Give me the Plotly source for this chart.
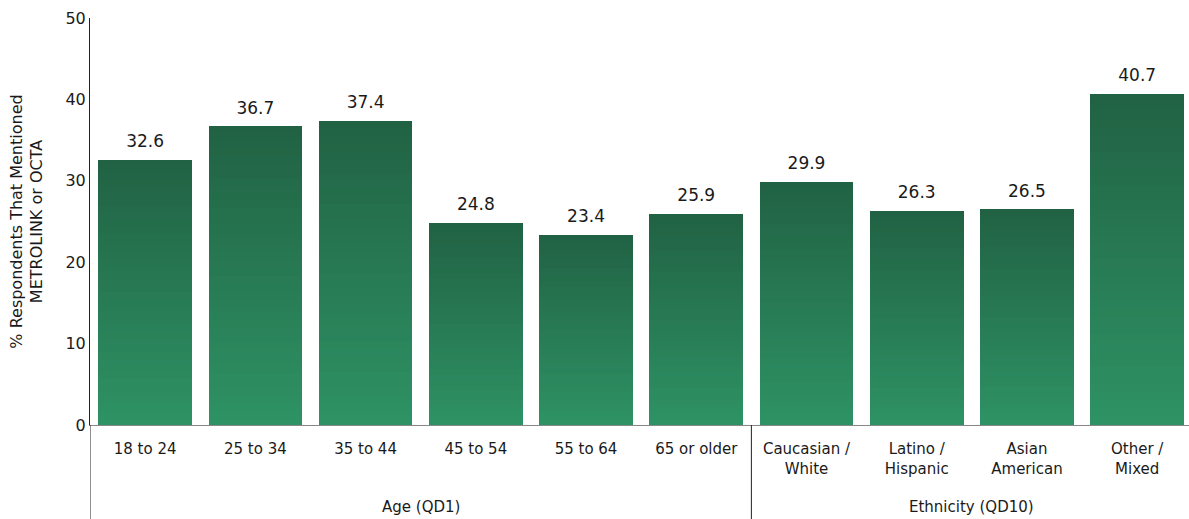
import plotly.graph_objects as go

groups = ["Age (QD1)"] * 6 + ["Ethnicity (QD10)"] * 4
categories = ["18 to 24", "25 to 34", "35 to 44", "45 to 54", "55 to 64", "65 or older",
              "Caucasian /<br>White", "Latino /<br>Hispanic", "Asian<br>American", "Other /<br>Mixed"]
values = [32.6, 36.7, 37.4, 24.8, 23.4, 25.9, 29.9, 26.3, 26.5, 40.7]
labels = [f"{v:.1f}" for v in values]

FONT = "DejaVu Sans"
TXT = "#1a1a1a"
bottom_rgb = (46, 146, 100)
top_rgb = (33, 98, 68)
N = 40

W, H = 1189, 519
ML, MR, MT, MB = 90, 0, 18, 94
plot_h = H - MT - MB

fig = go.Figure()
for i in range(N):
    t = i / (N - 1)
    c = tuple(round(bottom_rgb[k] + (top_rgb[k] - bottom_rgb[k]) * t) for k in range(3))
    fig.add_trace(go.Bar(
        x=categories, y=[v / N for v in values],
        marker=dict(color=f"rgb{c}", line=dict(width=0)),
        showlegend=False, hoverinfo="skip",
    ))

fig.add_trace(go.Scatter(
    x=categories, y=values, mode="markers+text", text=labels, textposition="top center",
    marker=dict(size=12, opacity=0),
    textfont=dict(family=FONT, size=17, color=TXT),
    showlegend=False, hoverinfo="skip", cliponaxis=False,
))

# group dividers and group labels derived from the group list
bottom_paper = -MB / plot_h
group_names = []
for g in groups:
    if g not in group_names:
        group_names.append(g)
start = 0
for gi, g in enumerate(group_names):
    n = groups.count(g)
    if gi > 0:
        fig.add_shape(type="line", xref="x", yref="paper",
                      x0=start - 0.5, x1=start - 0.5, y0=0, y1=bottom_paper,
                      line=dict(color="#222222", width=1))
    fig.add_annotation(x=start + (n - 1) / 2, xref="x", y=-82 / plot_h, yref="paper",
                       text=g, showarrow=False, yanchor="middle",
                       font=dict(family=FONT, size=15, color=TXT))
    start += n
fig.add_shape(type="line", xref="x", yref="paper", x0=-0.5, x1=-0.5, y0=0, y1=bottom_paper,
              line=dict(color="#222222", width=1))

fig.update_layout(
    barmode="stack", bargap=0.15,
    width=W, height=H,
    margin=dict(l=ML, r=MR, t=MT, b=MB),
    plot_bgcolor="white", paper_bgcolor="white",
    font=dict(family=FONT, size=15, color=TXT),
    xaxis=dict(
        type="category", range=[-0.5, len(values) - 0.53],
        showline=True, linecolor="#888888", linewidth=1,
        showgrid=False, ticks="",
        tickfont=dict(family=FONT, size=15, color=TXT), automargin=False,
        ticklabelstandoff=10,
    ),
    yaxis=dict(
        range=[0, 50], dtick=10, showgrid=False, zeroline=False,
        showline=True, linecolor="#222222", linewidth=1, ticks="",
        tickfont=dict(family=FONT, size=16, color=TXT), automargin=False,
        title=dict(text="% Respondents That Mentioned<br>METROLINK or OCTA",
                   font=dict(family=FONT, size=16, color=TXT), standoff=18),
    ),
)

fig.write_html("out.html", config={"displayModeBar": False},
               post_script="document.body.style.margin='0';document.body.style.overflow='hidden';")
